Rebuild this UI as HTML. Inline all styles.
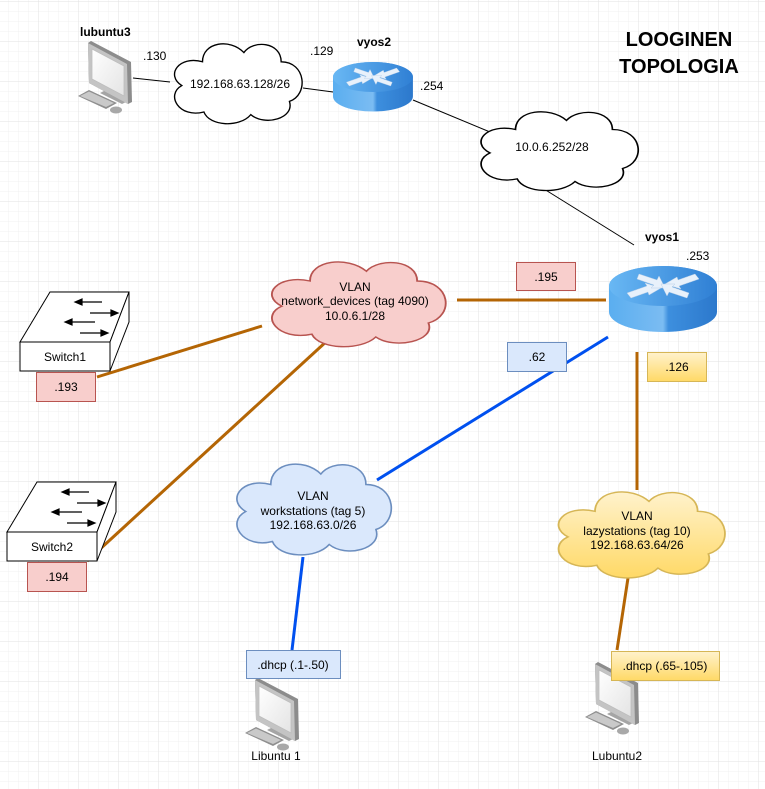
<!DOCTYPE html>
<html><head><meta charset="utf-8"><style>
html,body{margin:0;padding:0;background:#fff}
svg{display:block;font-family:"Liberation Sans",Arial,sans-serif}
</style></head><body>
<svg width="765" height="789" viewBox="0 0 765 789" xmlns="http://www.w3.org/2000/svg">
<defs>
<pattern id="minor" x="-2" y="1" width="10" height="10" patternUnits="userSpaceOnUse"><path d="M10 0H0V10" fill="none" stroke="#f0f0f0" stroke-width="1"/></pattern>
<pattern id="major" x="-2" y="1" width="40" height="40" patternUnits="userSpaceOnUse"><path d="M40 0H0V40" fill="none" stroke="#e2e2e2" stroke-width="1"/></pattern>
<linearGradient id="rb" x1="0" x2="1"><stop offset="0" stop-color="#5aaef0"/><stop offset="0.5" stop-color="#7bbcf2"/><stop offset="0.55" stop-color="#3d8fde"/><stop offset="1" stop-color="#2c78cc"/></linearGradient>
<linearGradient id="rt" x1="0" x2="1"><stop offset="0" stop-color="#69b8f4"/><stop offset="1" stop-color="#2f7fd4"/></linearGradient>
<linearGradient id="yel" x1="0" y1="0" x2="0" y2="1"><stop offset="0" stop-color="#fff2cc"/><stop offset="1" stop-color="#ffd966"/></linearGradient>
<linearGradient id="scr" x1="0" y1="0" x2="1" y2="1"><stop offset="0" stop-color="#ffffff"/><stop offset="1" stop-color="#e4e4e4"/></linearGradient>
<path id="cloud" d="M25,15 C25,0 45,-3 55,8 C62,-2 82,0 82,15 C100,15 102,40 88,45 C92,58 70,64 60,55 C52,65 30,64 26,53 C8,58 -2,40 10,33 C-2,25 8,10 25,15 Z"/>
<g id="router">
<path d="M0,20 A54,20 0 0 1 108,20 L108,46 A54,20 0 0 1 0,46 Z" fill="url(#rb)"/>
<ellipse cx="54" cy="20" rx="54" ry="20" fill="url(#rt)"/>
<g fill="#e8f1fb" stroke="#b8cfe8" stroke-width="0.5">
<path d="M18,27 L38,20 L36,17 L52,22 L40,29 L39,26 L22,32 Z"/>
<path d="M90,13 L70,20 L72,23 L56,18 L68,11 L69,14 L86,8 Z"/>
<path d="M30,8 L48,14 L50,10 L56,22 L42,22 L45,19 L28,13 Z"/>
<path d="M78,32 L60,26 L58,30 L52,18 L66,18 L63,21 L80,27 Z"/>
</g>
</g>
<g id="pc">
<path d="M29,45 L44,52 L44,60 L29,53 Z" fill="#9a9a9a"/>
<path d="M22,52 L30,48 L52,59 L44,63 Z" fill="#a5a5a5"/>
<path d="M10,2 L13,0 L53,21 L54,61 L50,63 L11,42 Z" fill="#8c8c8c"/>
<path d="M10,2 L49,23 L50,63 L11,42 Z" fill="#c4c4c4"/>
<path d="M14,8 L46,25 L46,55 L14,38 Z" fill="url(#scr)" stroke="#bdbdbd" stroke-width="0.8"/>
<path d="M0,55 L11,49 L39,62 L28,68 Z" fill="#8f8f8f"/>
<path d="M2,55 L11,50.5 L36,62 L28,66 Z" fill="#c9c9c9"/>
<ellipse cx="38" cy="69" rx="6" ry="3.5" fill="#a8a8a8"/>
</g>
<g id="sw">
<path d="M0,50 L30,0 L109,0 L90,50 Z" fill="#fff" stroke="#000" stroke-width="1"/>
<path d="M109,0 L109,30 L90,79 L90,50 Z" fill="#fff" stroke="#000" stroke-width="1"/>
<rect x="0" y="50" width="90" height="29" fill="#fff" stroke="#000" stroke-width="1"/>
<g stroke="#000" stroke-width="1.2" fill="#000">
<path d="M82,10 H58"/><path d="M55,10 l7,-3 v6 z"/>
<path d="M70,21 H95"/><path d="M98,21 l-7,-3 v6 z"/>
<path d="M75,30 H48"/><path d="M45,30 l7,-3 v6 z"/>
<path d="M60,41 H85"/><path d="M88,41 l-7,-3 v6 z"/>
</g>
</g>
</defs>
<rect width="765" height="789" fill="url(#minor)"/>
<rect width="765" height="789" fill="url(#major)"/>

<g stroke="#000" stroke-width="1" fill="none">
<path d="M133,78 L170,82"/>
<path d="M303,88 L333,92"/>
<path d="M413,100 L490,132"/>
<path d="M536,184 L634,245"/>
</g>
<g stroke="#b46504" stroke-width="3" fill="none">
<path d="M457,300 L606,300"/>
<path d="M97,377 L262,326"/>
<path d="M87,561 L328,340"/>
<path d="M637,352 L637,490"/>
<path d="M628,578 L617,650"/>
</g>
<g stroke="#0050ef" stroke-width="3" fill="none">
<path d="M608,337 L377,480"/>
<path d="M303,557 L292,650"/>
</g>

<use href="#cloud" transform="translate(168,42) scale(1.38,1.32)" fill="#fff" stroke="#000" stroke-width="1" vector-effect="non-scaling-stroke"/>
<use href="#cloud" transform="translate(473,110) scale(1.7,1.3)" fill="#fff" stroke="#000" stroke-width="1" vector-effect="non-scaling-stroke"/>
<use href="#cloud" transform="translate(263,260) scale(1.88,1.4)" fill="#f8cecc" stroke="#b85450" stroke-width="1" vector-effect="non-scaling-stroke"/>
<use href="#cloud" transform="translate(229,462) scale(1.67,1.5)" fill="#dae8fc" stroke="#6c8ebf" stroke-width="1" vector-effect="non-scaling-stroke"/>
<use href="#cloud" transform="translate(550,490) scale(1.8,1.42)" fill="url(#yel)" stroke="#d6b656" stroke-width="1" vector-effect="non-scaling-stroke"/>

<g font-size="12" text-anchor="middle" fill="#000">
<text x="240" y="88">192.168.63.128/26</text>
<text x="552" y="151">10.0.6.252/28</text>
<text x="355" y="291">VLAN</text>
<text x="355" y="305">network_devices (tag 4090)</text>
<text x="355" y="320">10.0.6.1/28</text>
<text x="313" y="500">VLAN</text>
<text x="313" y="515">workstations (tag 5)</text>
<text x="313" y="529">192.168.63.0/26</text>
<text x="637" y="520">VLAN</text>
<text x="637" y="535">lazystations (tag 10)</text>
<text x="637" y="549">192.168.63.64/26</text>
</g>

<use href="#router" transform="translate(333,62) scale(0.74,0.75)"/>
<use href="#router" transform="translate(609,266)"/>

<use href="#sw" transform="translate(20,292)"/>
<use href="#sw" transform="translate(7,482)"/>
<g font-size="12" text-anchor="middle"><text x="65" y="361">Switch1</text><text x="52" y="551">Switch2</text></g>

<use href="#pc" transform="translate(78,41)"/>
<use href="#pc" transform="translate(245,678)"/>
<use href="#pc" transform="translate(585,662)"/>

<g font-size="12" text-anchor="middle">
<rect x="516.5" y="262.5" width="59" height="28" fill="#f8cecc" stroke="#b85450"/><text x="546" y="281">.195</text>
<rect x="507.5" y="342.5" width="59" height="29" fill="#dae8fc" stroke="#6c8ebf"/><text x="537" y="361">.62</text>
<rect x="647.5" y="352.5" width="59" height="29" fill="url(#yel)" stroke="#d6b656"/><text x="677" y="371">.126</text>
<rect x="36.5" y="372.5" width="59" height="29" fill="#f8cecc" stroke="#b85450"/><text x="66" y="391">.193</text>
<rect x="27.5" y="562.5" width="59" height="29" fill="#f8cecc" stroke="#b85450"/><text x="57" y="581">.194</text>
<rect x="246.5" y="650.5" width="94" height="28" fill="#dae8fc" stroke="#6c8ebf"/><text x="293" y="669">.dhcp (.1-.50)</text>
<rect x="611.5" y="651.5" width="108" height="29" fill="url(#yel)" stroke="#d6b656"/><text x="665" y="670">.dhcp (.65-.105)</text>
</g>

<g font-size="12" fill="#000">
<text x="143" y="60">.130</text>
<text x="310" y="55">.129</text>
<text x="420" y="90">.254</text>
<text x="686" y="260">.253</text>
<text x="80" y="36" font-weight="bold">lubuntu3</text>
<text x="357" y="46" font-weight="bold">vyos2</text>
<text x="645" y="241" font-weight="bold">vyos1</text>
<text x="276" y="760" text-anchor="middle">Libuntu 1</text>
<text x="617" y="760" text-anchor="middle">Lubuntu2</text>
</g>
<g font-size="20" font-weight="bold" text-anchor="middle">
<text x="679" y="46">LOOGINEN</text>
<text x="679" y="73">TOPOLOGIA</text>
</g>
</svg>
</body></html>
